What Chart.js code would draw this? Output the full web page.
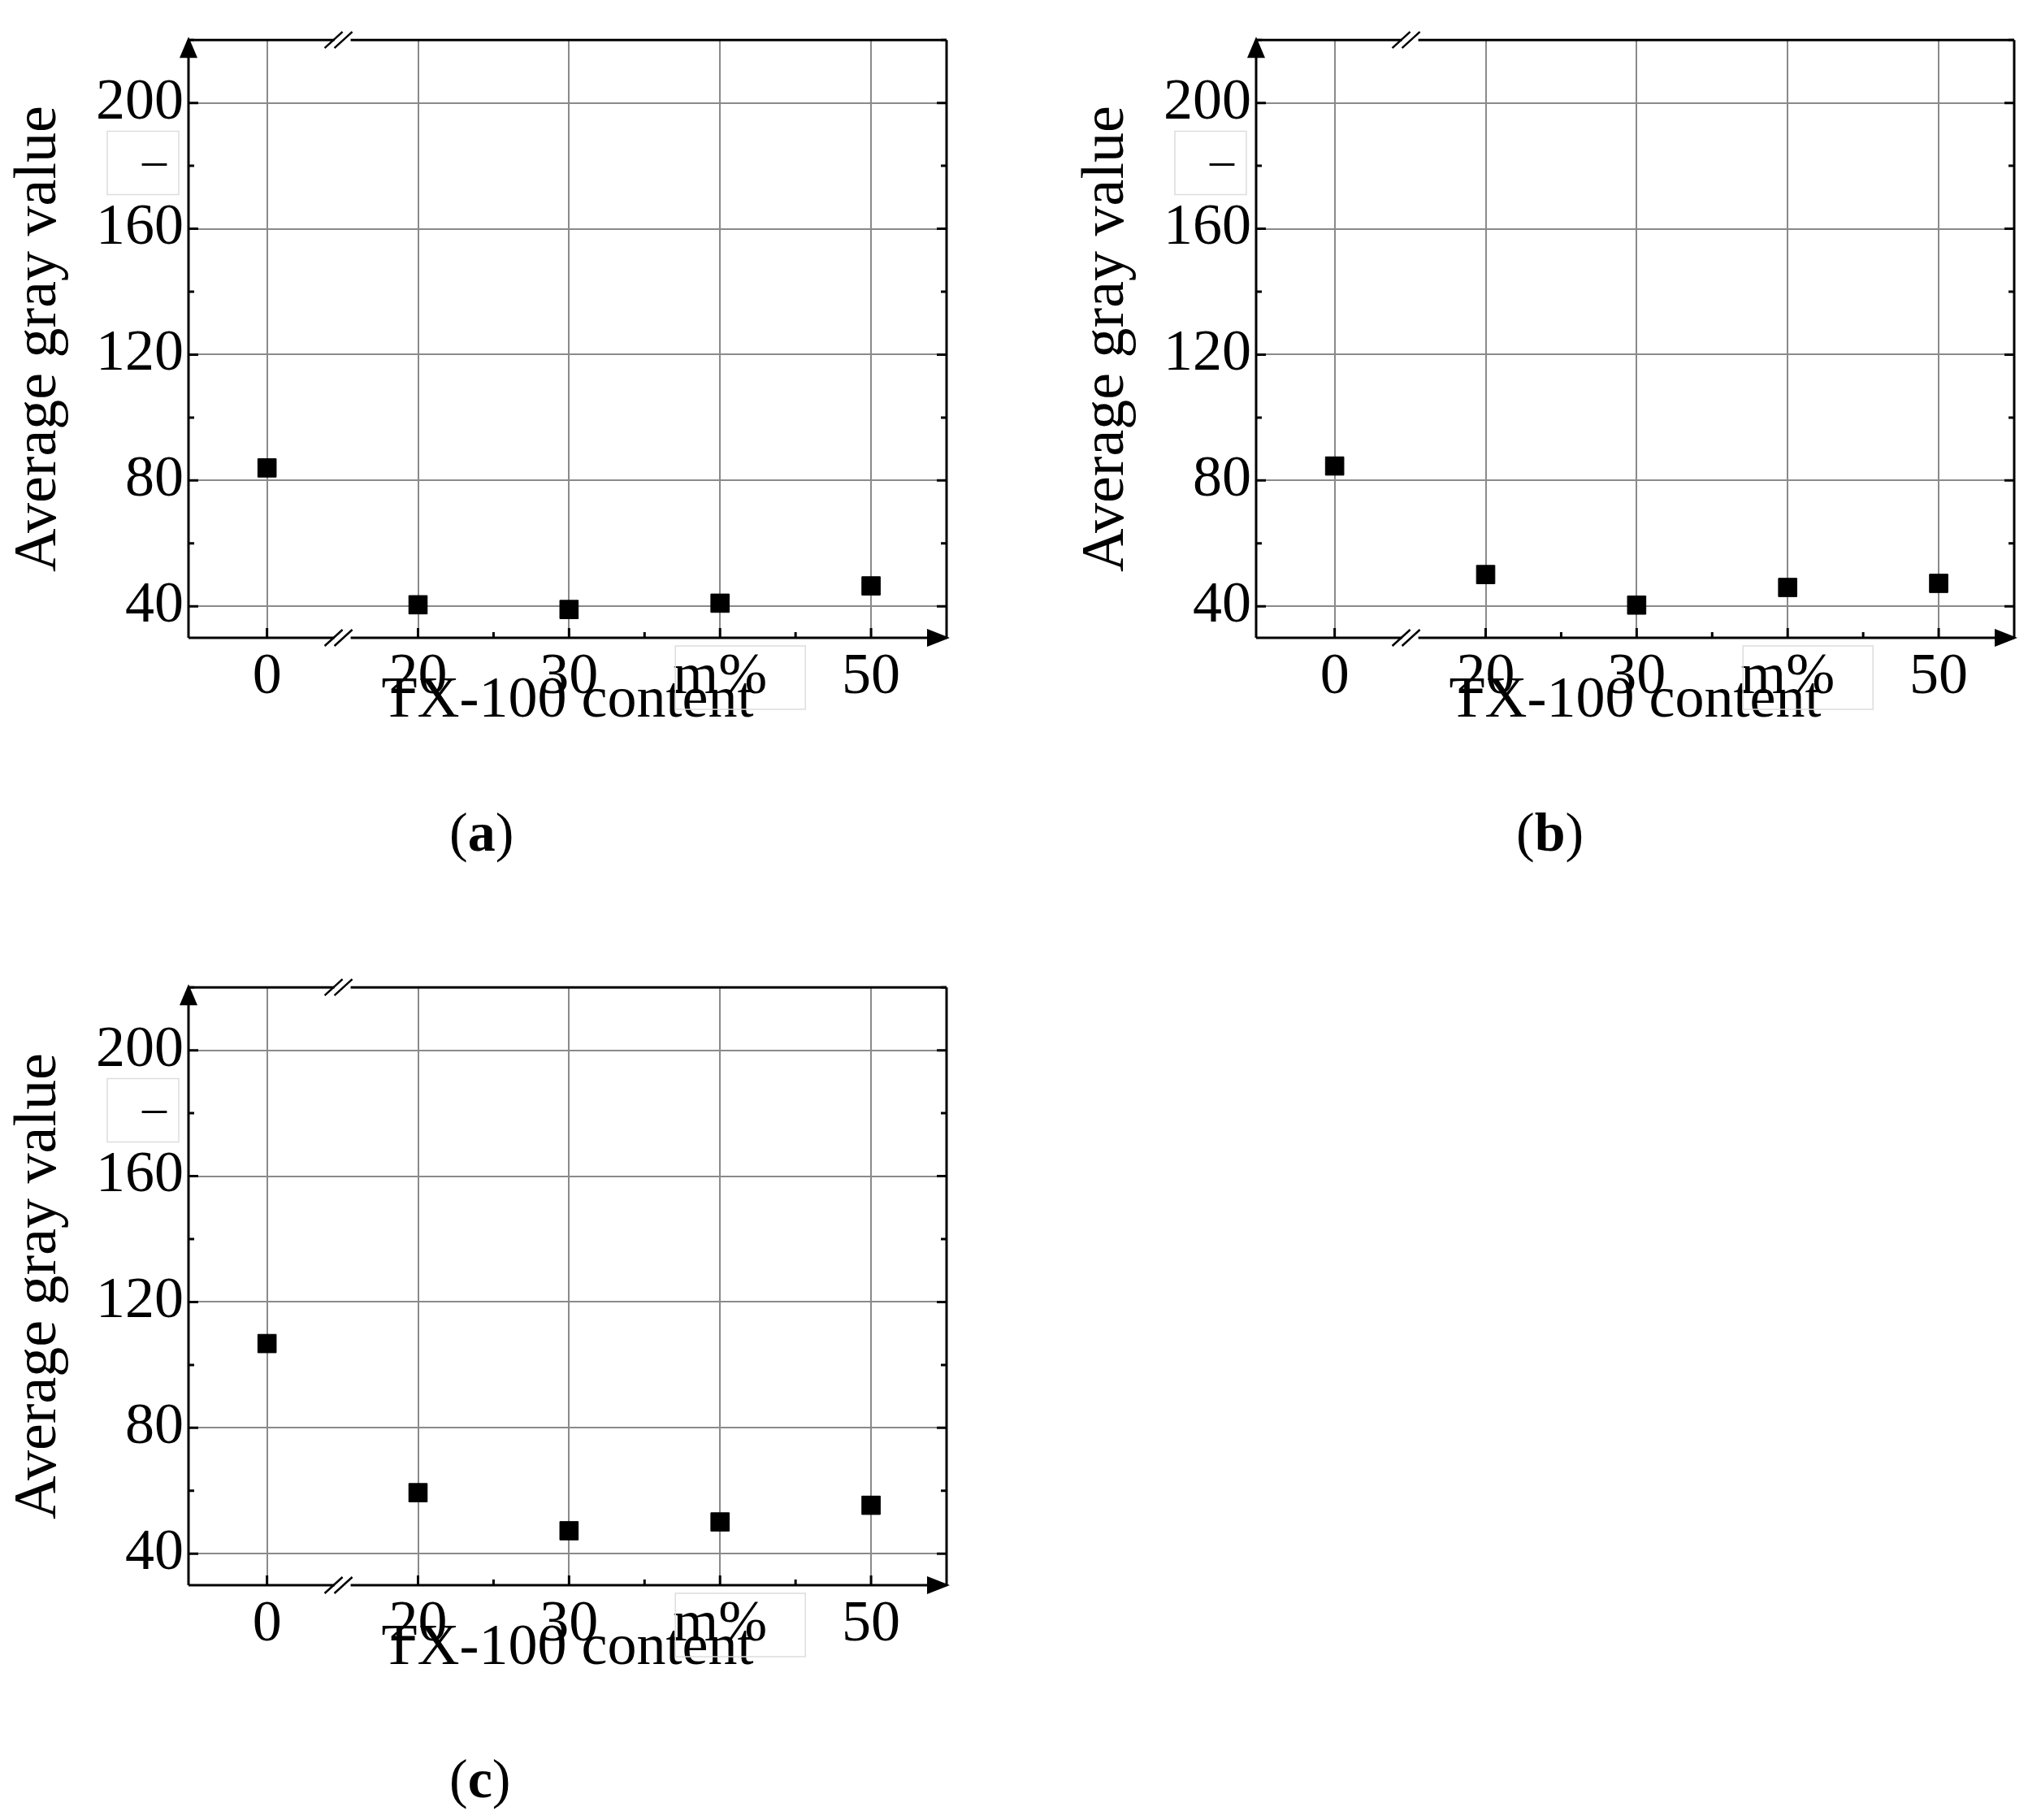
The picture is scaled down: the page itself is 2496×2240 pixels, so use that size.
<!DOCTYPE html>
<html>
<head>
<meta charset="utf-8">
<script src="https://cdn.jsdelivr.net/npm/chart.js@4.4.1/dist/chart.umd.min.js"></script>
<style>
  body { margin: 0; background: #fff; width: 2496px; height: 2240px; position: relative; }
  .panel { position: absolute; width: 1200px; height: 1000px; }
  .tag { position: absolute; font-family: "Liberation Serif", serif; font-size: 68px; color: #000; }
</style>
</head>
<body>
<div class="panel" style="left:0;top:0"><canvas id="chartA"></canvas></div>
<div class="panel" style="left:1314px;top:0"><canvas id="chartB"></canvas></div>
<div class="panel" style="left:0;top:1166px"><canvas id="chartC"></canvas></div>
<div class="tag" style="left:553px;top:985px">(<b>a</b>)</div>
<div class="tag" style="left:1866px;top:985px">(<b>b</b>)</div>
<div class="tag" style="left:553px;top:2150px">(<b>c</b>)</div>
<script>
// TX-100 content categories (m%), axis is broken between 0 and 20
const categories = ['0', '20', '30', 'm%', '50'];
const categoryPos = [0, 1, 2, 3, 4];
const grayA = [84, 40.5, 39, 41, 46.5];
const grayB = [84.6, 50.1, 40.4, 46, 47.3];
const grayC = [106.8, 59.4, 47.3, 50.1, 55.4];
const yTicks = [40, 80, 120, 160, 200];

const FONT = '"Liberation Serif", "DejaVu Serif", serif';

// frame, arrows, break marks and minor ticks
const decor = {
    id: 'decor',
    afterDraw(chart) {
        const c = chart.ctx, a = chart.chartArea;
        const x = chart.scales.x, y = chart.scales.y;
        c.save();
        c.strokeStyle = '#000';
        c.fillStyle = '#000';
        c.lineWidth = 3;
        c.beginPath();
        c.moveTo(a.left, a.bottom); c.lineTo(a.right, a.bottom);
        c.moveTo(a.left, a.bottom); c.lineTo(a.left, a.top);
        c.moveTo(a.left, a.top); c.lineTo(a.right, a.top);
        c.moveTo(a.right, a.top); c.lineTo(a.right, a.bottom);
        c.stroke();
        for (let v = 40; v <= 220; v += 20) {
            const py = y.getPixelForValue(v);
            const len = v % 40 === 0 ? 12 : 7;
            c.beginPath();
            c.moveTo(a.left, py); c.lineTo(a.left + len, py);
            c.moveTo(a.right, py); c.lineTo(a.right - len, py);
            c.stroke();
        }
        for (let i = 0; i < categoryPos.length; i++) {
            const px = x.getPixelForValue(categoryPos[i]);
            c.beginPath(); c.moveTo(px, a.bottom); c.lineTo(px, a.bottom - 12); c.stroke();
            if (i > 0 && i < categoryPos.length - 1) {
                const mx = x.getPixelForValue(categoryPos[i] + 0.5);
                c.beginPath(); c.moveTo(mx, a.bottom); c.lineTo(mx, a.bottom - 7); c.stroke();
            }
        }
        // arrows
        c.beginPath();
        c.moveTo(a.left - 11, a.top + 22); c.lineTo(a.left + 11, a.top + 22); c.lineTo(a.left, a.top - 4);
        c.fill();
        c.beginPath();
        c.moveTo(a.right - 24, a.bottom - 11); c.lineTo(a.right - 24, a.bottom + 11); c.lineTo(a.right + 4, a.bottom);
        c.fill();
        // break marks
        const bx = x.getPixelForValue(0.5);
        [a.top, a.bottom].forEach(by => {
            c.fillStyle = '#fff';
            c.fillRect(bx - 10, by - 6, 20, 12);
            c.lineWidth = 2.5;
            c.beginPath();
            c.moveTo(bx - 22, by + 10); c.lineTo(bx, by - 10);
            c.moveTo(bx - 10, by + 10); c.lineTo(bx + 12, by - 10);
            c.stroke();
        });
        // small boxed dash next to y axis
        c.strokeStyle = '#ddd'; c.lineWidth = 1.5;
        c.strokeRect(a.left - 100, y.getPixelForValue(191), 88, 78);
        c.fillStyle = '#000';
        c.font = '60px ' + FONT;
        c.textAlign = 'center'; c.textBaseline = 'middle';
        c.fillText('–', a.left - 42, y.getPixelForValue(181));
        // faint box around m% label
        c.strokeStyle = '#ddd';
        const mx = x.getPixelForValue(3);
        c.strokeRect(mx - 55, a.bottom + 10, 160, 78);
        c.restore();
    }
};

function makeChart(id, values) {
    return new Chart(document.getElementById(id), {
        type: 'scatter',
        data: {
            datasets: [{
                data: categoryPos.map((p, i) => ({ x: p, y: values[i] })),
                pointStyle: 'rect',
                pointRadius: 16,
                backgroundColor: '#000',
                borderColor: '#000'
            }]
        },
        options: {
            responsive: false,
            animation: false,
            layout: { padding: { top: 22, right: 35, left: 0, bottom: 90 } },
            plugins: { legend: { display: false }, tooltip: { enabled: false } },
            scales: {
                x: {
                    type: 'linear', min: -0.52, max: 4.5,
                    afterBuildTicks: s => { s.ticks = categoryPos.map(v => ({ value: v })); },
                    afterFit: s => { s.height = 125; },
                    border: { display: false },
                    grid: { color: '#8a8a8a', lineWidth: 2, drawTicks: false },
                    ticks: {
                        padding: 6, color: '#000', font: { family: FONT, size: 72 },
                        callback: v => categories[categoryPos.indexOf(v)] ?? ''
                    },
                    title: {
                        display: true, text: 'TX-100 content', color: '#000',
                        font: { family: FONT, size: 72 }, padding: { top: -16 }
                    }
                },
                y: {
                    min: 30, max: 220,
                    afterBuildTicks: s => { s.ticks = yTicks.map(v => ({ value: v })); },
                    afterFit: s => { s.width = 232; },
                    border: { display: false },
                    grid: { color: '#8a8a8a', lineWidth: 2, drawTicks: false },
                    ticks: { padding: 6, color: '#000', font: { family: FONT, size: 72 } },
                    title: {
                        display: true, text: 'Average gray value', color: '#000',
                        font: { family: FONT, size: 74 }, padding: { bottom: 0 }
                    }
                }
            }
        },
        plugins: [decor]
    });
}

for (const id of ['chartA', 'chartB', 'chartC']) {
    const cv = document.getElementById(id);
    cv.width = 1200; cv.height = 1000;
}
makeChart('chartA', grayA);
makeChart('chartB', grayB);
makeChart('chartC', grayC);
</script>
</body>
</html>
